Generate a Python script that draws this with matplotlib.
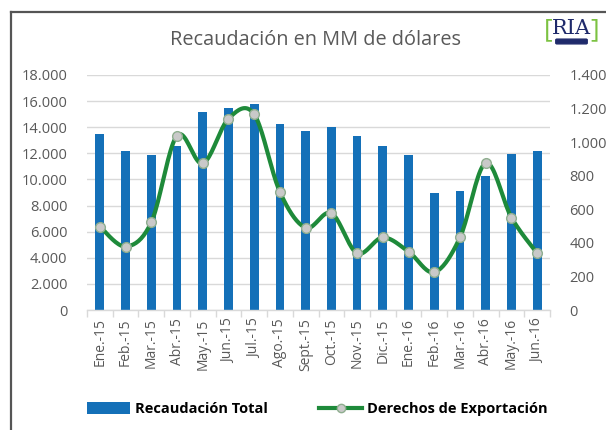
import matplotlib
matplotlib.use("Agg")
import matplotlib.pyplot as plt
import numpy as np
from matplotlib.patches import FancyBboxPatch
from matplotlib.lines import Line2D
from matplotlib.patches import Patch

plt.rcParams['font.family'] = ['Open Sans', 'DejaVu Sans']

categories = ["Ene.-15", "Feb.-15", "Mar.-15", "Abr.-15", "May.-15", "Jun.-15",
              "Jul.-15", "Ago.-15", "Sept.-15", "Oct.-15", "Nov.-15", "Dic.-15",
              "Ene.-16", "Feb.-16", "Mar.-16", "Abr.-16", "May.-16", "Jun.-16"]
recaudacion_total = [13500, 12200, 11850, 12600, 15200, 15450, 15800, 14250, 13700,
                     14050, 13300, 12550, 11850, 9000, 9100, 10300, 11950, 12200]
derechos_export = [497, 378, 523, 1039, 873, 1140, 1166, 703, 490,
                   577, 338, 432, 348, 225, 432, 876, 551, 338]
left_ticks = [0, 2000, 4000, 6000, 8000, 10000, 12000, 14000, 16000, 18000]
right_ticks = [0, 200, 400, 600, 800, 1000, 1200, 1400]

def fmt(v):
    return f"{v:,}".replace(",", ".")

W, H = 606, 430
fig = plt.figure(figsize=(W / 100, H / 100), dpi=100)
ax = fig.add_axes([87 / W, 1 - 310 / H, (550 - 87) / W, (310 - 75) / H])
ax2 = ax.twinx()

x = np.arange(len(categories))
grid_c = '#d9d9d9'
text_c = '#595959'

ax.bar(x, recaudacion_total, width=0.34, color='#1470B8', zorder=2)
ax.set_ylim(0, 18000)
ax.set_xlim(-0.5, len(categories) - 0.5)
ax.set_yticks(left_ticks)
ax.set_yticklabels([fmt(v) for v in left_ticks])
ax.yaxis.grid(True, color=grid_c, linewidth=1.0, zorder=0)
ax.set_axisbelow(True)
ax.set_xticks(x)
ax.set_xticklabels(categories, rotation=90)
ax.set_xticks(np.arange(-0.5, len(categories)), minor=True)
ax.tick_params(axis='x', which='major', length=0, labelsize=10, colors=text_c, pad=6)
ax.tick_params(axis='x', which='minor', length=5, color=grid_c, width=1)
ax.tick_params(axis='y', length=0, labelsize=10.5, colors=text_c, pad=14)
for s in ['top', 'right', 'left']:
    ax.spines[s].set_visible(False)
ax.spines['bottom'].set_color(grid_c)
ax.spines['bottom'].set_linewidth(1.0)

# smoothed line (Catmull-Rom rendering through data points)
def catmull(xs, ys, n=20):
    px, py = [], []
    xs = np.asarray(xs, float); ys = np.asarray(ys, float)
    P = np.column_stack([xs, ys])
    P = np.vstack([P[0], P, P[-1]])
    for i in range(1, len(P) - 2):
        p0, p1, p2, p3 = P[i - 1], P[i], P[i + 1], P[i + 2]
        t = np.linspace(0, 1, n, endpoint=False)[:, None]
        c = 0.5 * ((2 * p1) + (-p0 + p2) * t + (2 * p0 - 5 * p1 + 4 * p2 - p3) * t ** 2
                   + (-p0 + 3 * p1 - 3 * p2 + p3) * t ** 3)
        px.extend(c[:, 0]); py.extend(c[:, 1])
    px.append(xs[-1]); py.append(ys[-1])
    return np.array(px), np.array(py)

sx, sy = catmull(x, derechos_export)
green = '#1E8A3A'
ax2.plot(sx, sy, color=green, linewidth=3.0, zorder=3, solid_capstyle='round')
ax2.plot(x, derechos_export, linestyle='none', marker='o', markersize=7,
         markerfacecolor='#c9c9c9', markeredgecolor='#8fae8f', markeredgewidth=1.0, zorder=4)
ax2.set_ylim(0, 1400)
ax2.set_yticks(right_ticks)
ax2.set_yticklabels([fmt(v) for v in right_ticks])
ax2.tick_params(axis='y', length=0, labelsize=10.5, colors=text_c, pad=14)
for s in ['top', 'right', 'left', 'bottom']:
    ax2.spines[s].set_visible(False)

# title
fig.text(315 / W, 1 - 40 / H, "Recaudación en MM de dólares", ha='center', va='center',
         fontsize=14.3, color=text_c)

# border (top and left)
fig.add_artist(Line2D([10.5 / W, 1.0], [1 - 11.5 / H, 1 - 11.5 / H], color='#555555', linewidth=1.6))
fig.add_artist(Line2D([10.5 / W, 10.5 / W], [1 - 11.5 / H, 0], color='#555555', linewidth=1.6))

# logo
fig.text(571 / W, 1 - 28 / H, "RIA", ha='center', va='center', fontsize=15,
         family='DejaVu Serif', color='#1f2a6b')
fig.text(548 / W, 1 - 30 / H, "[", ha='center', va='center', fontsize=19, color='#7cc242')
fig.text(595 / W, 1 - 30 / H, "]", ha='center', va='center', fontsize=19, color='#7cc242')
fig.add_artist(FancyBboxPatch((557 / W, 1 - 43 / H), 29 / W, 3 / H,
                              boxstyle='round,pad=0.002', color='#1f2a6b', transform=fig.transFigure))

# legend
leg_handles = [Patch(facecolor='#1470B8', edgecolor='none'),
               Line2D([0], [0], color=green, linewidth=3.0, marker='o', markersize=6,
                      markerfacecolor='#c9c9c9', markeredgecolor='#8fae8f')]
fig.legend(leg_handles, ["Recaudación Total", "Derechos de Exportación"],
           loc='center', bbox_to_anchor=(317 / W, 1 - 409 / H), ncol=2, frameon=False,
           prop={'weight': 'bold', 'size': 10.5}, handlelength=3.0, handleheight=0.9,
           columnspacing=3.5, handletextpad=0.3)

fig.savefig("out.png", dpi=100)
